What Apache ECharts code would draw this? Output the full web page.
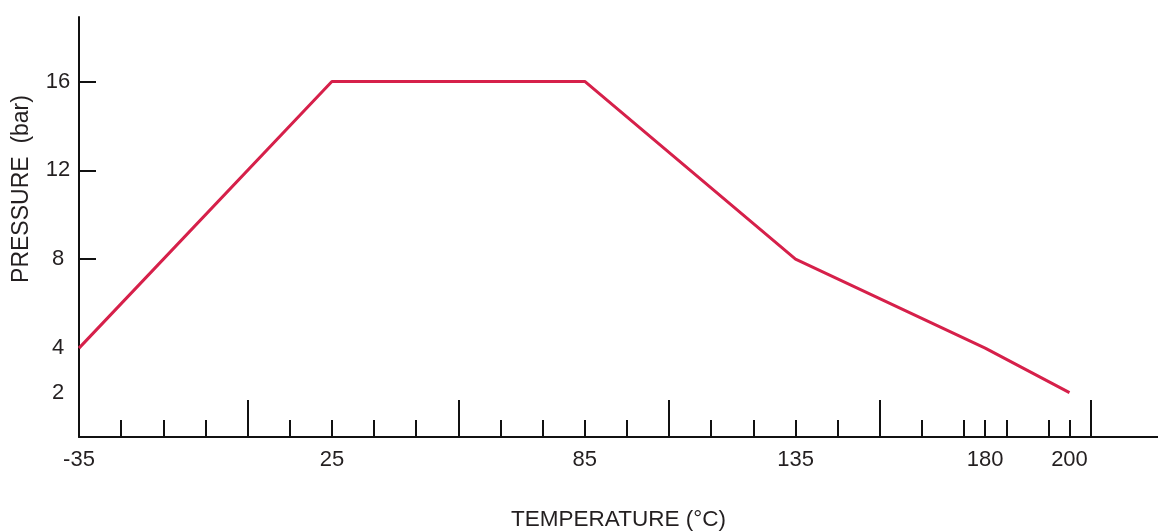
<!DOCTYPE html>
<html>
<head>
<meta charset="utf-8">
<script src="https://cdn.jsdelivr.net/npm/echarts@6/dist/echarts.min.js"></script>
<style>
html,body{margin:0;padding:0;background:#fff;}
#c{width:1158px;height:532px;}
</style>
</head>
<body>
<div id="c"></div>
<script>
// Data
const temperatures = [-35, 25, 85, 135, 180, 200];
const pressures = [4, 16, 16, 8, 4, 2];
const xLabelValues = [-35, 25, 85, 135, 180, 200];
const xMinorTicks = [-25, -15, -5, 15, 25, 35, 45, 65, 75, 85, 95, 115, 125, 135, 145, 165, 175, 180, 185, 195, 200];
const xMajorTicks = [5, 55, 105, 155, 205];
const yLabelValues = [2, 4, 8, 12, 16];
const yTickValues = [8, 12, 16];

const FONT = "'Liberation Sans', Arial, Helvetica, sans-serif";
const TEXT = '#231f20';
const AXIS = '#111111';

const chart = echarts.init(document.getElementById('c'));
chart.setOption({
  animation: false,
  backgroundColor: '#ffffff',
  grid: { left: 79, right: 0, top: 17, bottom: 95, containLabel: false, outerBoundsMode: 'none' },
  xAxis: [
    {
      type: 'value', position: 'bottom', min: -35, max: 221,
      axisLine: { show: true, onZero: false, lineStyle: { color: AXIS, width: 2 } },
      axisTick: { show: true, inside: true, length: 17, customValues: xMinorTicks, lineStyle: { color: AXIS, width: 2 } },
      axisLabel: { show: true, customValues: xLabelValues, margin: 12, fontSize: 22, color: TEXT, fontFamily: FONT },
      splitLine: { show: false },
      name: 'TEMPERATURE (°C)', nameLocation: 'middle', nameGap: 71,
      nameTextStyle: { fontSize: 22.5, color: TEXT, fontFamily: FONT }
    },
    {
      type: 'value', position: 'bottom', min: -35, max: 221,
      axisLine: { show: false, onZero: false },
      axisTick: { show: true, inside: true, length: 37, customValues: xMajorTicks, lineStyle: { color: AXIS, width: 2 } },
      axisLabel: { show: false },
      splitLine: { show: false }
    }
  ],
  yAxis: {
    type: 'value', min: 0, max: 18.9,
    axisLine: { show: true, onZero: false, lineStyle: { color: AXIS, width: 2 } },
    axisTick: { show: true, inside: true, length: 17, customValues: yTickValues, lineStyle: { color: AXIS, width: 2 } },
    axisLabel: { show: true, customValues: yLabelValues, margin: 21, align: 'center', fontSize: 22, color: TEXT, fontFamily: FONT },
    splitLine: { show: false }
  },
  graphic: [
    {
      type: 'text', x: 22, y: 189, rotation: Math.PI / 2,
      style: { text: 'PRESSURE  (bar)', fontSize: 23, fill: TEXT, fontFamily: FONT, align: 'center', verticalAlign: 'middle' }
    }
  ],
  series: [
    {
      type: 'line', xAxisIndex: 0,
      data: temperatures.map((t, i) => [t, pressures[i]]),
      showSymbol: false, symbol: 'none',
      lineStyle: { color: '#d6204a', width: 3 },
      silent: true
    }
  ]
});
</script>
</body>
</html>
